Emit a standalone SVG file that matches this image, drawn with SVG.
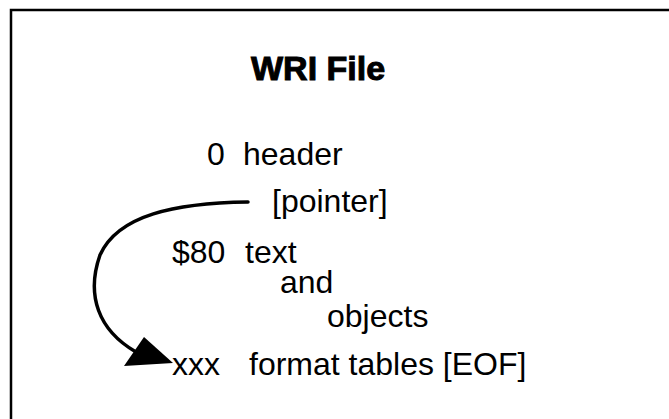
<svg xmlns="http://www.w3.org/2000/svg" width="669" height="419" viewBox="0 0 669 419">
  <style>
    .frame { fill: none; stroke: #000; stroke-width: 2.5; }
    .title { font-family: "Liberation Sans", Arial, sans-serif; font-weight: bold; font-size: 34px; fill: #000; stroke: #000; stroke-width: 1; }
    .lbl { font-family: "Liberation Sans", Arial, sans-serif; font-size: 32px; fill: #000; }
    .link { fill: none; stroke: #000; stroke-width: 3.5; stroke-linecap: round; }
    .head { fill: #000; }
  </style>
  <rect width="669" height="419" fill="#fff"/>
  <!-- open frame: top and left edges only -->
  <path class="frame" d="M11,419 V10 H669"/>

  <g id="title"><text class="title" x="251" y="80">WRI File</text></g>
  <g id="header">
    <text class="lbl" x="207" y="165">0</text>
    <text class="lbl" x="243" y="165">header</text>
  </g>
  <g id="pointer"><text class="lbl" x="272" y="212">[pointer]</text></g>
  <g id="text-block">
    <text class="lbl" x="172" y="263">$80</text>
    <text class="lbl" x="245" y="263">text</text>
    <text class="lbl" x="280" y="293">and</text>
    <text class="lbl" x="327" y="327">objects</text>
  </g>
  <g id="format-tables">
    <text class="lbl" x="172" y="375">xxx</text>
    <text class="lbl" x="249" y="375">format tables [EOF]</text>
  </g>

  <g id="connectors">
    <path class="link" d="M248,202 C175,203 118,215 100,255 C86,295 98,330 136,352"/>
    <polygon class="head" points="173,363 144,337 124,366"/>
  </g>
</svg>
